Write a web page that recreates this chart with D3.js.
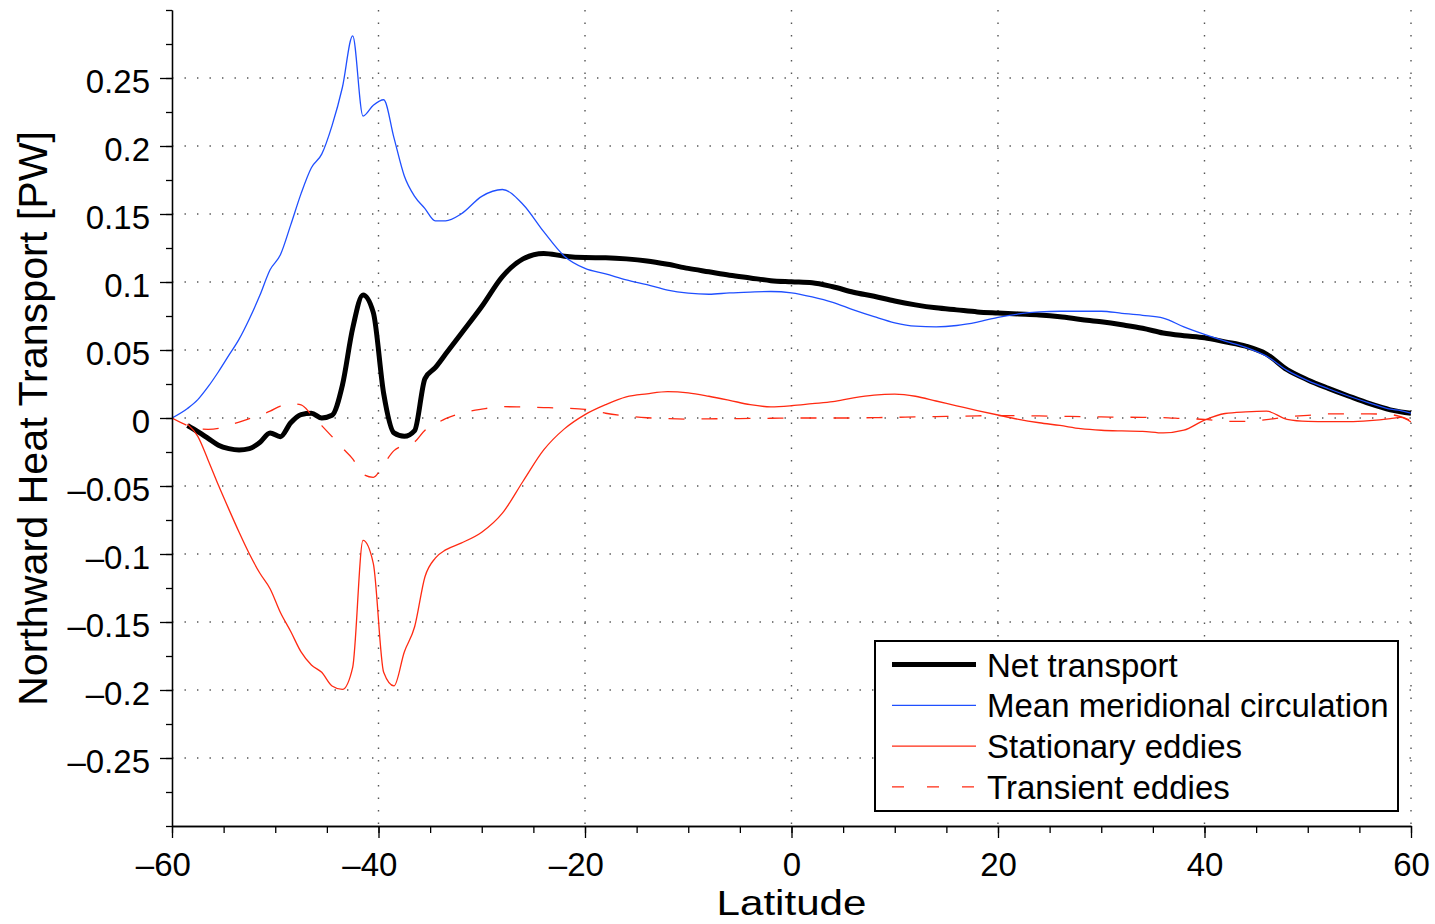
<!DOCTYPE html>
<html>
<head>
<meta charset="utf-8">
<script src="https://cdn.jsdelivr.net/npm/d3@7"></script>
<style>
  html, body { margin: 0; padding: 0; background: #fff; }
  svg { display: block; font-family: "Liberation Sans", Arial, Helvetica, sans-serif; }
</style>
</head>
<body>
<div id="chart"></div>
<script>
// latitude grid (1 deg steps in the south, 2 deg elsewhere)
const latitude = [
  -60, -58.5, -57.5, -56.5, -55.5, -54.5, -53.5, -52.5, -51.5, -50.5, -49.5, -48.5, -47.5, -46.5,
  -45.5, -44.5, -43.5, -42.5, -41.5, -40.5, -39.5, -38.5, -37.5, -36.5, -35.5, -34.5, -33.5,
  -32, -30, -28, -26, -24, -22, -20, -18, -16, -14, -12, -10, -8, -6, -4, -2,
  0, 2, 4, 6, 8, 10, 12, 14, 16, 18, 20, 22, 24, 26, 28, 30,
  32, 34, 36, 38, 40, 42, 44, 46, 48, 50, 52, 54, 56, 58, 59, 60
];

const netTransport = [
  null, -0.0055, -0.010, -0.015, -0.020, -0.0225, -0.0235, -0.0225, -0.018, -0.011, -0.0137, -0.0035, 0.0025, 0.0035,
  0.0, 0.002, 0.024, 0.066, 0.0905, 0.0775, 0.018, -0.011, -0.0135, -0.0093, 0.029, 0.037, 0.047,
  0.062, 0.082, 0.104, 0.117, 0.121, 0.119, 0.118, 0.1178, 0.117, 0.1155, 0.113, 0.110, 0.1075, 0.105, 0.103, 0.101,
  0.1002, 0.0995, 0.0965, 0.0925, 0.0895, 0.086, 0.0832, 0.081, 0.0795, 0.078, 0.0772, 0.0765, 0.0758, 0.0745, 0.0725, 0.0707,
  0.0685, 0.066, 0.0625, 0.0605, 0.059, 0.056, 0.0528, 0.047, 0.0355, 0.028, 0.0218, 0.016, 0.0105, 0.006, 0.0045, 0.0035
];

const meanMeridional = [
  0, 0.007, 0.0135, 0.023, 0.034, 0.046, 0.058, 0.073, 0.090, 0.109, 0.120, 0.142, 0.165, 0.184,
  0.194, 0.215, 0.243, 0.281, 0.222, 0.230, 0.234, 0.206, 0.178, 0.163, 0.154, 0.145, 0.145,
  0.150, 0.163, 0.168, 0.157, 0.137, 0.119, 0.110, 0.106, 0.1015, 0.098, 0.094, 0.0918, 0.091, 0.092, 0.0926, 0.093,
  0.092, 0.089, 0.085, 0.0795, 0.0745, 0.070, 0.0675, 0.067, 0.068, 0.0705, 0.074, 0.0765, 0.078, 0.0785, 0.0785, 0.0785,
  0.077, 0.0755, 0.0735, 0.067, 0.0615, 0.0565, 0.052, 0.0455, 0.035, 0.0275, 0.0215, 0.016, 0.011, 0.0065, 0.0055, 0.0035
];

const stationaryEddies = [
  null, -0.0045, -0.0135, -0.031, -0.0495, -0.067, -0.084, -0.100, -0.114, -0.1255, -0.143, -0.157, -0.172, -0.1816,
  -0.187, -0.197, -0.1995, -0.1833, -0.090, -0.107, -0.187, -0.197, -0.172, -0.1535, -0.1167, -0.103, -0.097,
  -0.092, -0.084, -0.070, -0.0465, -0.0235, -0.008, 0.0025, 0.0098, 0.0155, 0.0178, 0.0194, 0.0185, 0.016, 0.013, 0.0098, 0.0082,
  0.009, 0.0105, 0.012, 0.0148, 0.0168, 0.0175, 0.016, 0.0125, 0.009, 0.0055, 0.0022, -0.001, -0.0035, -0.0055, -0.0078, -0.009,
  -0.0095, -0.0098, -0.011, -0.009, -0.0015, 0.0033, 0.0045, 0.005, -0.001, -0.0025, -0.0027, -0.0027, -0.002, -0.0005, 0.0005, -0.003
];

const transientEddies = [
  0, -0.0055, -0.008, -0.0083, -0.0076, -0.0055, -0.003, -0.0005, 0.002, 0.005, 0.0088, 0.0105, 0.0096, 0.0024,
  -0.0056, -0.0137, -0.022, -0.030, -0.0413, -0.0436, -0.034, -0.024, -0.020, -0.0175, -0.009, -0.0045, -0.0005,
  0.0035, 0.0065, 0.0083, 0.0082, 0.0077, 0.0072, 0.0064, 0.0035, 0.0015, 0.0002, -0.0005, -0.0008, -0.0006, -0.0005, -0.0003, -0.0002,
  0, 0, 0, 0, 0.0003, 0.0005, 0.0008, 0.001, 0.0013, 0.0016, 0.0018, 0.0017, 0.0015, 0.0013, 0.001, 0.0008,
  0.0006, 0.0005, 0.0003, -0.0005, -0.001, -0.0025, -0.0025, -0.0012, 0.0008, 0.002, 0.003, 0.003, 0.003, 0.0025, 0.001, -0.002
];

const xTicks = [-60, -40, -20, 0, 20, 40, 60];
const yTicks = [-0.25, -0.2, -0.15, -0.1, -0.05, 0, 0.05, 0.1, 0.15, 0.2, 0.25];
const yTickLabels = ["\u20130.25", "\u20130.2", "\u20130.15", "\u20130.1", "\u20130.05", "0",
                     "0.05", "0.1", "0.15", "0.2", "0.25"];
const legendLabels = ["Net transport", "Mean meridional circulation", "Stationary eddies", "Transient eddies"];

const width = 1435, height = 924;
const margin = { top: 10, right: 24, bottom: 98, left: 172 };
const blue = "#1f4fff", red = "#ff2a12";

const series = [
  { values: netTransport, color: "#000", width: 5, dash: null, legendDash: null },
  { values: meanMeridional, color: blue, width: 1.3, dash: null, legendDash: null },
  { values: stationaryEddies, color: red, width: 1.3, dash: null, legendDash: null },
  { values: transientEddies, color: red, width: 1.3, dash: "16,17", legendDash: "12,23" }
];

const x = d3.scaleLinear().domain([-60, 60]).range([margin.left, width - margin.right]);
const y = d3.scaleLinear().domain([-0.3, 0.3]).range([height - margin.bottom, margin.top]);

const svg = d3.select("#chart").append("svg")
  .attr("width", width)
  .attr("height", height);

// dotted grid
const grid = svg.append("g").attr("stroke", "#555").attr("stroke-width", 1.4)
  .attr("stroke-dasharray", "1.4,11.1");
grid.selectAll("line.h").data(yTicks).enter().append("line")
  .attr("x1", x(-60)).attr("x2", x(60))
  .attr("y1", d => y(d)).attr("y2", d => y(d));
grid.selectAll("line.v").data(xTicks.filter(d => d > -60)).enter().append("line")
  .attr("x1", d => x(d)).attr("x2", d => x(d))
  .attr("y1", y(0.3)).attr("y2", y(-0.3));

// lines
svg.append("clipPath").attr("id", "plot-clip").append("rect")
  .attr("x", x(-60)).attr("y", y(0.3))
  .attr("width", x(60) - x(-60)).attr("height", y(-0.3) - y(0.3));

const plot = svg.append("g").attr("clip-path", "url(#plot-clip)");
series.forEach(s => {
  const line = d3.line()
    .defined((d, i) => s.values[i] !== null)
    .x(d => x(d))
    .y((d, i) => y(s.values[i]))
    .curve(d3.curveMonotoneX);
  plot.append("path")
    .attr("d", line(latitude))
    .attr("fill", "none")
    .attr("stroke", s.color)
    .attr("stroke-width", s.width)
    .attr("stroke-linejoin", "round")
    .attr("stroke-dasharray", s.dash);
});

// axes
function styleAxis(g) {
  g.select(".domain").attr("stroke", "#000").attr("stroke-width", 1.3);
  g.selectAll(".tick line").attr("stroke", "#000").attr("stroke-width", 1.3);
  g.selectAll(".tick text").attr("fill", "#000").style("font-size", "33px");
}

const xAxisG = svg.append("g").attr("transform", `translate(0,${y(-0.3)})`);
xAxisG.append("g")
  .call(d3.axisBottom(x).tickValues(d3.range(-60, 61, 5)).tickSize(7).tickSizeOuter(0).tickFormat(""))
  .call(styleAxis);
const xMajor = xAxisG.append("g")
  .call(d3.axisBottom(x).tickValues(xTicks).tickSize(12).tickSizeOuter(0).tickFormat(d => String(Math.abs(d))))
  .call(styleAxis);
xMajor.attr("font-family", null).attr("font-size", null);
xMajor.selectAll(".tick text").attr("y", 50).attr("dy", null);
// digits are centred on the tick, the minus hangs on the left
xMajor.selectAll(".tick").filter(d => d < 0).each(function () {
  const t = d3.select(this).select("text");
  const w = t.node().getComputedTextLength();
  d3.select(this).append("text")
    .attr("x", -w / 2).attr("y", 50)
    .attr("text-anchor", "end")
    .attr("fill", "#000")
    .style("font-size", "33px")
    .text("\u2013");
});

const yAxisG = svg.append("g").attr("transform", `translate(${x(-60)},0)`);
yAxisG.append("g")
  .call(d3.axisLeft(y).tickValues(d3.range(-12, 13).map(k => k * 0.025)).tickSize(6).tickSizeOuter(0).tickFormat(""))
  .call(styleAxis);
const yMajor = yAxisG.append("g")
  .call(d3.axisLeft(y).tickValues(yTicks).tickSize(12).tickPadding(10).tickSizeOuter(0)
    .tickFormat((d, i) => yTickLabels[i]))
  .call(styleAxis);
yMajor.attr("font-family", null).attr("font-size", null);
yMajor.selectAll(".tick text").attr("dy", "0.43em");

// axis titles
svg.append("text")
  .attr("x", (x(-60) + x(60)) / 2)
  .attr("y", 915)
  .attr("text-anchor", "middle")
  .attr("textLength", 150)
  .attr("lengthAdjust", "spacingAndGlyphs")
  .style("font-size", "35px")
  .text("Latitude");

svg.append("text")
  .attr("transform", `translate(47,${(y(0.3) + y(-0.3)) / 2 + 0.5}) rotate(-90)`)
  .attr("text-anchor", "middle")
  .attr("textLength", 575)
  .attr("lengthAdjust", "spacingAndGlyphs")
  .style("font-size", "40px")
  .text("Northward Heat Transport [PW]");

// legend
const legend = svg.append("g").attr("transform", "translate(875,641)");
legend.append("rect")
  .attr("width", 523).attr("height", 170)
  .attr("fill", "#fff").attr("stroke", "#000").attr("stroke-width", 2);
const rows = legend.selectAll("g.row").data(legendLabels).enter().append("g")
  .attr("transform", (d, i) => `translate(0,${23.5 + i * 40.8})`);
rows.append("line")
  .attr("x1", 17).attr("x2", 101)
  .attr("stroke", (d, i) => series[i].color)
  .attr("stroke-width", (d, i) => series[i].width)
  .attr("stroke-dasharray", (d, i) => series[i].legendDash);
rows.append("text")
  .attr("x", 112).attr("y", 12)
  .style("font-size", "33px")
  .text(d => d);
</script>
</body>
</html>
